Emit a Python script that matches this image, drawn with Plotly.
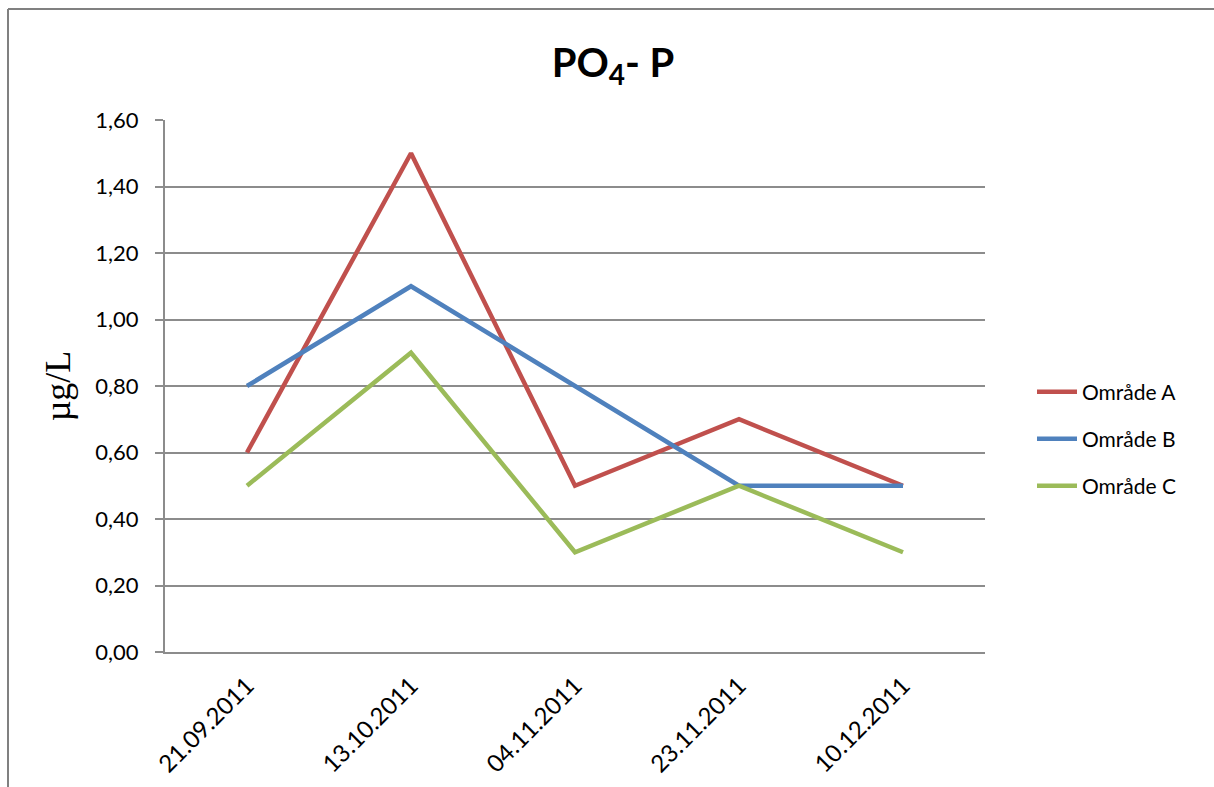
import plotly.graph_objects as go

# Sampling dates and phosphate concentrations per area
dates = ["21.09.2011", "13.10.2011", "04.11.2011", "23.11.2011", "10.12.2011"]
omrade_a = [0.6, 1.5, 0.5, 0.7, 0.5]
omrade_b = [0.8, 1.1, 0.8, 0.5, 0.5]
omrade_c = [0.5, 0.9, 0.3, 0.5, 0.3]
series_names = ["Område A", "Område B", "Område C"]
y_ticks = [0, 0.2, 0.4, 0.6, 0.8, 1.0, 1.2, 1.4, 1.6]

colors = ["#C0504D", "#4F81BD", "#9BBB59"]
font = "Lato, 'Open Sans', sans-serif"
grid = "#8C8C8C"

W, H = 1214, 787
L, R, T, B = 165, 229, 120, 135
pw, ph = W - L - R, H - T - B


def px_x(p):
    return (p - L) / pw


def px_y(p):
    return (H - B - p) / ph


# one legend box per series so the rows keep their wide spacing
legend_ids = ["legend", "legend2", "legend3"]
legend_rows = [392, 439, 486]

fig = go.Figure()
for name, vals, col, lg in zip(series_names, [omrade_a, omrade_b, omrade_c], colors, legend_ids):
    fig.add_trace(go.Scatter(
        x=dates, y=vals, name=name, mode="lines",
        line=dict(color=col, width=4.5), legend=lg,
    ))

legend_style = dict(
    xanchor="left", yanchor="middle",
    font=dict(family=font, size=21, color="black"),
    itemwidth=40, bgcolor="rgba(0,0,0,0)",
)

fig.update_layout(
    width=W, height=H,
    margin=dict(l=L, r=R, t=T, b=B, autoexpand=False),
    paper_bgcolor="white", plot_bgcolor="white",
    separators=", ",
    title=dict(
        text="<b>PO<sub>4</sub>- P</b>",
        xref="container", x=613 / W, xanchor="center",
        yref="container", y=1 - 63 / H, yanchor="middle",
        font=dict(family=font, size=40, color="black"),
    ),
    xaxis=dict(
        type="category", range=[-0.5, 4.5], automargin=False,
        showgrid=False, showline=True, linecolor=grid, linewidth=2,
        ticks="", tickangle=-45, ticklabelstandoff=8,
        tickfont=dict(family=font, size=24, color="black"),
    ),
    yaxis=dict(
        range=[0, 1.6], tickvals=y_ticks, tickformat=".2f", automargin=False,
        showgrid=True, gridcolor=grid, gridwidth=2,
        showline=True, linecolor=grid, linewidth=2,
        ticks="outside", ticklen=8, tickcolor=grid, tickwidth=2,
        ticklabelstandoff=12,
        tickfont=dict(family=font, size=22, color="black"),
        zeroline=False,
        title=dict(text="µg/L", font=dict(family="Liberation Serif, serif", size=36, color="black"), standoff=14),
    ),
    showlegend=True,
)
for lg, row in zip(legend_ids, legend_rows):
    fig.update_layout({lg: dict(legend_style, x=px_x(1032), y=px_y(row))})

# Chart frame (left and top edges)
fig.add_shape(type="line", xref="paper", yref="paper",
              x0=px_x(8), x1=px_x(8), y0=px_y(800), y1=px_y(9),
              line=dict(color="#808080", width=2))
fig.add_shape(type="line", xref="paper", yref="paper",
              x0=px_x(8), x1=px_x(1230), y0=px_y(9), y1=px_y(9),
              line=dict(color="#808080", width=2))

fig.write_html("out.html")
